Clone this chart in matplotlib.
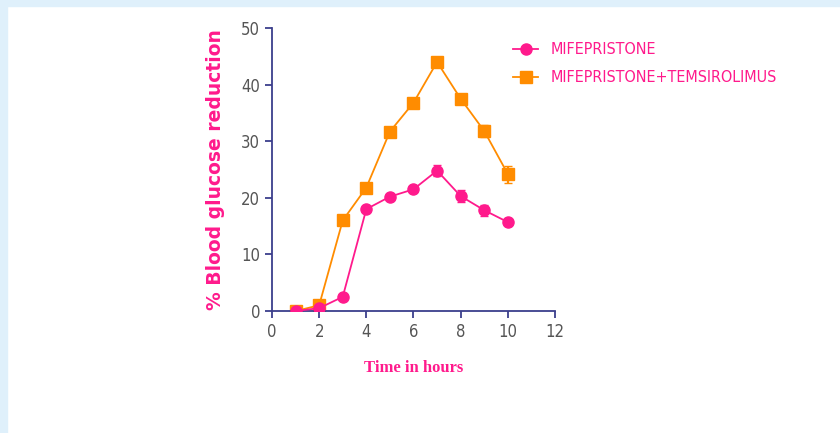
import matplotlib.pyplot as plt
import matplotlib.patches as mpatches

# data
hours = [1, 2, 3, 4, 5, 6, 7, 8, 9, 10]
mife = [0, 0.5, 2.5, 18.0, 20.2, 21.5, 24.8, 20.3, 17.8, 15.7]
mife_err = [0.3, 0.3, 0.4, 0.5, 0.5, 0.5, 1.0, 1.1, 1.0, 0.5]
combo = [0, 1.0, 16.0, 21.8, 31.7, 36.8, 44.0, 37.5, 31.8, 24.2]
combo_err = [0.3, 0.5, 0.5, 0.5, 0.5, 0.5, 0.6, 0.6, 1.0, 1.5]

pink = '#ff1a8c'
orange = '#ff8c00'
navy = '#3c3f8c'
grey = '#555555'

fig = plt.figure(figsize=(8.4, 4.33), dpi=100)
# light blue page border (top and left)
fig.patches.append(mpatches.Rectangle((0, 1 - 6/433), 1, 6/433, transform=fig.transFigure,
                                      color='#dff0fb', zorder=0))
fig.patches.append(mpatches.Rectangle((0, 0), 7/840, 1, transform=fig.transFigure,
                                      color='#dff0fb', zorder=0))

ax = fig.add_axes([0.3238, 0.2818, 0.3369, 0.6535])

ax.errorbar(hours, mife, yerr=mife_err, color=pink, fmt='none', elinewidth=1.6,
            capsize=3, zorder=3)
ax.plot(hours, mife, color=pink, marker='o', markersize=8, lw=1.3,
        label='MIFEPRISTONE', zorder=3)
ax.errorbar(hours, combo, yerr=combo_err, color=orange, fmt='none', elinewidth=1.6,
            capsize=3, zorder=2)
ax.plot(hours, combo, color=orange, marker='s', markersize=8, lw=1.3,
        label='MIFEPRISTONE+TEMSIROLIMUS', zorder=2)

ax.set_xlim(0, 12)
ax.set_ylim(0, 50)
ax.set_xticks(range(0, 13, 2))
ax.set_yticks(range(0, 51, 10))
ax.spines['top'].set_visible(False)
ax.spines['right'].set_visible(False)
for s in ['left', 'bottom']:
    ax.spines[s].set_color(navy)
    ax.spines[s].set_linewidth(1.3)
ax.tick_params(colors=navy, labelcolor=grey, direction='out', length=5, width=1.3,
               labelsize=12)
for lab in ax.get_xticklabels() + ax.get_yticklabels():
    lab.set_fontfamily('DejaVu Sans')
    lab.set_fontstretch('condensed')

ax.set_ylabel('% Blood glucose reduction', color=pink, fontsize=13.5, fontweight='bold',
              fontfamily='DejaVu Sans', labelpad=12)
ax.set_xlabel('Time in hours', color=pink, fontsize=12, fontweight='bold',
              fontfamily='Liberation Serif', labelpad=14)

leg = ax.legend(loc='upper left', bbox_to_anchor=(0.8, 1.0), frameon=False,
                fontsize=11.5, handlelength=1.6, labelspacing=0.8)
for t in leg.get_texts():
    t.set_color(pink)
    t.set_fontstretch('condensed')

fig.savefig('out.png', dpi=100)
